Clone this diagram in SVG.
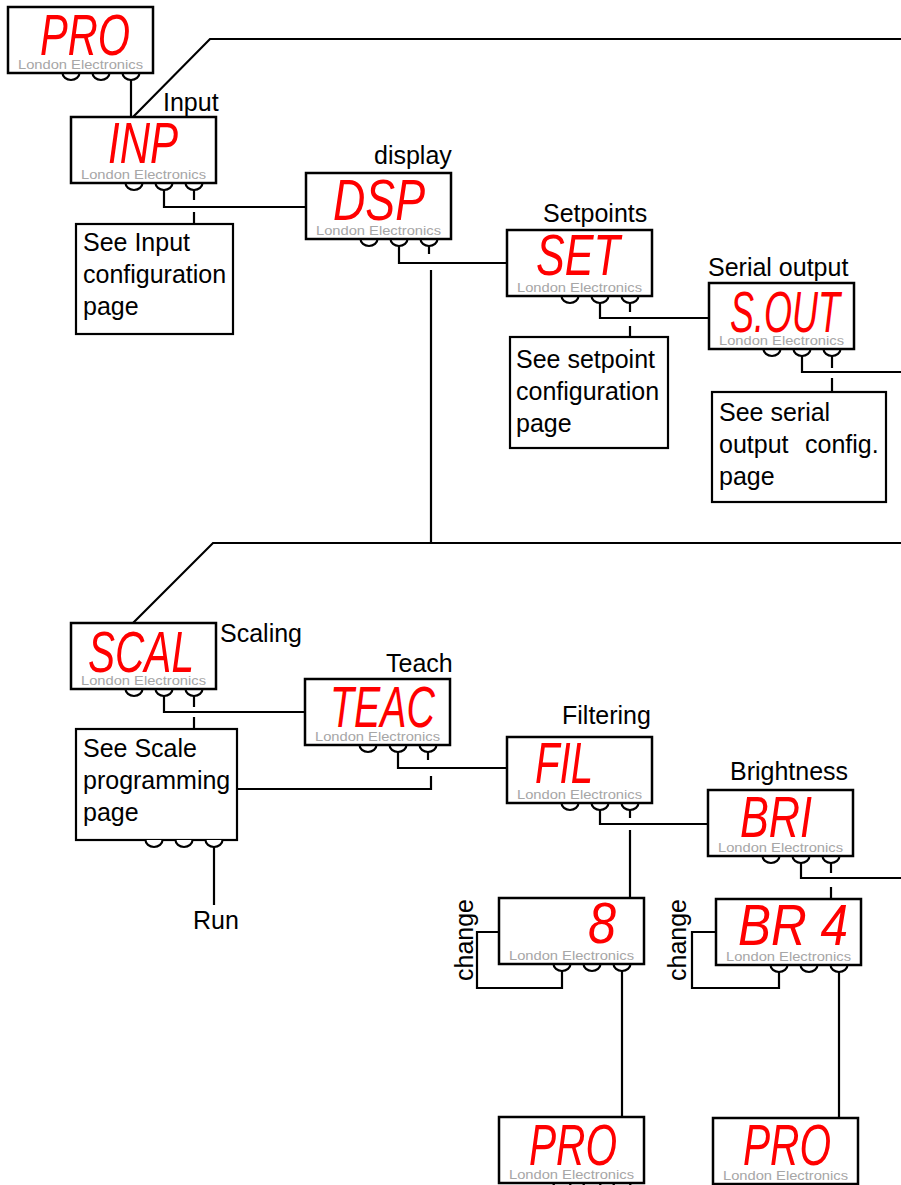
<svg xmlns="http://www.w3.org/2000/svg" xmlns:xlink="http://www.w3.org/1999/xlink" width="901" height="1185" viewBox="0 0 901 1185">
<style>
.frame{fill:#fff;stroke:#000;stroke-width:2.5}
.btn{fill:#fff;stroke:#000;stroke-width:2.2}
.brand{font-family:"Liberation Sans",Arial,sans-serif;font-size:13px;fill:#a6a6a6}
.seg{font-family:"Liberation Sans",Arial,sans-serif;font-style:italic;font-size:58px;fill:#ff0000}
.lbl{font-family:"Liberation Sans",Arial,sans-serif;font-size:25px;fill:#000}
.box{fill:#fff;stroke:#000;stroke-width:2.2}
.conn path{fill:none;stroke:#000;stroke-width:2.2}
</style>
<defs>
<g id="disp">
<path class="btn" d="M54.5,66 A8.5,7 0 0 0 71.5,66"/>
<path class="btn" d="M84.5,66 A8.5,7 0 0 0 101.5,66"/>
<path class="btn" d="M114.5,66 A8.5,7 0 0 0 131.5,66"/>
<rect class="frame" x="0" y="0" width="145" height="66"/>
<text class="brand" x="10" y="61.5" textLength="125" lengthAdjust="spacingAndGlyphs">London Electronics</text>
</g>
</defs>
<rect width="901" height="1185" fill="#fff"/>

<g id="connectors" class="conn">
<path d="M131,79 V117"/>
<path d="M133,117 L210,39 H901"/>
<path d="M164,190 V207 H306"/>
<path d="M194,190 V200"/>
<path d="M194,212 V224"/>
<path d="M399,246 V263 H507"/>
<path d="M429,246 V254"/>
<path d="M431,270 V543"/>
<path d="M901,543 H213 L133,623"/>
<path d="M600,303 V318 H709"/>
<path d="M630,303 V312"/>
<path d="M630,326 V337"/>
<path d="M802,356 V372 H901"/>
<path d="M832,356 V368"/>
<path d="M832,378 V392"/>
<path d="M164,696 V712 H305"/>
<path d="M194,696 V707"/>
<path d="M194,717 V729"/>
<path d="M237,789 H431 V776"/>
<path d="M428,752 V760"/>
<path d="M398,752 V768 H507"/>
<path d="M600,810 V824 H708"/>
<path d="M630,810 V818"/>
<path d="M630,830 V898"/>
<path d="M801,863 V878 H901"/>
<path d="M831,863 V873"/>
<path d="M831,887 V899"/>
<path d="M562,971 V988 H477 V932 H499"/>
<path d="M622,971 V1117"/>
<path d="M779,972 V988 H692 V932 H716"/>
<path d="M839,972 V1118"/>
<path d="M214,847 V905"/>
</g>

<g id="pro-top"><use xlink:href="#disp" x="8" y="7"/><text class="seg" x="40" y="55" textLength="90" lengthAdjust="spacingAndGlyphs">PRO</text></g>
<g id="inp"><use xlink:href="#disp" x="71" y="117"/><text class="seg" x="108" y="163" textLength="70" lengthAdjust="spacingAndGlyphs">INP</text><text class="lbl" x="163" y="111">Input</text></g>
<g id="see-input"><rect class="box" x="76" y="224" width="157" height="110"/><text class="lbl" x="83" y="251">See Input</text><text class="lbl" x="83" y="283">configuration</text><text class="lbl" x="83" y="315">page</text></g>
<g id="dsp"><use xlink:href="#disp" x="306" y="173"/><text class="seg" x="333" y="220" textLength="92" lengthAdjust="spacingAndGlyphs">DSP</text><text class="lbl" x="374" y="164">display</text></g>
<g id="set"><use xlink:href="#disp" x="507" y="230"/><text class="seg" x="536" y="275" textLength="84" lengthAdjust="spacingAndGlyphs">SET</text><text class="lbl" x="543" y="222">Setpoints</text></g>
<g id="see-setpoint"><rect class="box" x="510" y="337" width="158" height="111"/><text class="lbl" x="516" y="368">See setpoint</text><text class="lbl" x="516" y="400">configuration</text><text class="lbl" x="516" y="432">page</text></g>
<g id="sout"><use xlink:href="#disp" x="709" y="283"/><text class="seg" x="730" y="332" textLength="110" lengthAdjust="spacingAndGlyphs">S.OUT</text><text class="lbl" x="708" y="276">Serial output</text></g>
<g id="see-serial"><rect class="box" x="712" y="392" width="174" height="110"/><text class="lbl" x="719" y="421">See serial</text><text class="lbl" x="719" y="453">output</text><text class="lbl" x="805" y="453">config.</text><text class="lbl" x="719" y="485">page</text></g>
<g id="scal"><use xlink:href="#disp" x="71" y="623"/><text class="seg" x="88" y="672" textLength="106" lengthAdjust="spacingAndGlyphs">SCAL</text><text class="lbl" x="220" y="642">Scaling</text></g>
<g id="see-scale"><rect class="box" x="76" y="729" width="161" height="111"/><path class="btn" d="M145.5,840 A8.5,7 0 0 0 162.5,840"/><path class="btn" d="M175.5,840 A8.5,7 0 0 0 192.5,840"/><path class="btn" d="M205.5,840 A8.5,7 0 0 0 222.5,840"/><text class="lbl" x="83" y="757">See Scale</text><text class="lbl" x="83" y="789">programming</text><text class="lbl" x="83" y="821">page</text></g>
<g id="run"><text class="lbl" x="193" y="929">Run</text></g>
<g id="teac"><use xlink:href="#disp" x="305" y="679"/><text class="seg" x="330" y="727" textLength="105" lengthAdjust="spacingAndGlyphs">TEAC</text><text class="lbl" x="386" y="672">Teach</text></g>
<g id="fil"><use xlink:href="#disp" x="507" y="737"/><text class="seg" x="535" y="783" textLength="58" lengthAdjust="spacingAndGlyphs">FIL</text><text class="lbl" x="562" y="724">Filtering</text></g>
<g id="bri"><use xlink:href="#disp" x="708" y="790"/><text class="seg" x="740" y="837" textLength="72" lengthAdjust="spacingAndGlyphs">BRI</text><text class="lbl" x="730" y="780">Brightness</text></g>
<g id="fil-value"><use xlink:href="#disp" x="499" y="898"/><text class="seg" x="588" y="943" textLength="28" lengthAdjust="spacingAndGlyphs">8</text><text class="lbl" transform="translate(473,981) rotate(-90)">change</text></g>
<g id="bri-value"><use xlink:href="#disp" x="716" y="899"/><text class="seg" x="738" y="945" textLength="110" lengthAdjust="spacingAndGlyphs">BR 4</text><text class="lbl" transform="translate(686,981) rotate(-90)">change</text></g>
<g id="pro-fil"><use xlink:href="#disp" x="499" y="1117"/><text class="seg" x="529" y="1165" textLength="88" lengthAdjust="spacingAndGlyphs">PRO</text></g>
<g id="pro-bri"><use xlink:href="#disp" x="713" y="1118"/><text class="seg" x="743" y="1165" textLength="88" lengthAdjust="spacingAndGlyphs">PRO</text></g>
</svg>
